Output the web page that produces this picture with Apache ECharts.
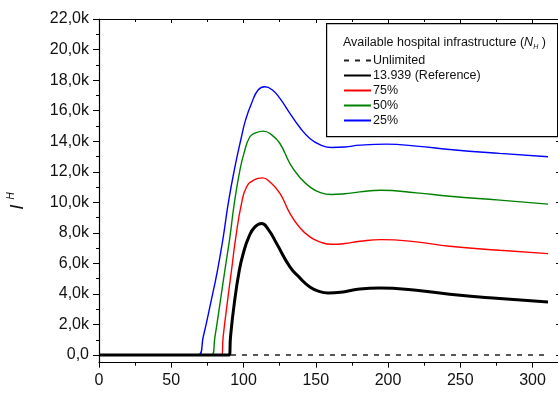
<!DOCTYPE html>
<html>
<head>
<meta charset="utf-8">
<script src="https://cdn.jsdelivr.net/npm/echarts@6/dist/echarts.min.js"></script>
<style>html,body{margin:0;padding:0;background:#fff;}#c{width:558px;height:404px;}</style>
</head>
<body>
<div id="c"></div>
<script>
// ---- data (days, values in persons) ----
const unlimitedDays = [0, 310];
const unlimitedValues = [0, 0];

const refDays   = [0, 90.1, 91, 93.6, 97.1, 99.8, 103.7, 107.9, 112.5, 117, 122.9, 132.1, 139, 145.9, 152.8, 158.6, 170, 180.5, 194.3, 219.6, 242.7, 277.3, 310.7];
const refValues = [0, 0, 1180, 3370, 5550, 6640, 7740, 8390, 8610, 8250, 7300, 5770, 5050, 4460, 4150, 4060, 4150, 4330, 4390, 4240, 3980, 3700, 3470];

const p75Days   = [0, 84.8, 85.9, 88.7, 91.7, 94.7, 98.6, 102.1, 107, 113.1, 118, 125.2, 132.1, 139, 145.9, 152.8, 161, 170, 180.5, 195.4, 219.6, 242.7, 277.3, 310.7];
const p75Values = [0, 0, 1180, 3370, 5550, 7740, 9920, 11000, 11450, 11600, 11350, 10580, 9270, 8330, 7740, 7410, 7250, 7300, 7450, 7560, 7410, 7120, 6860, 6640];

const p50Days   = [0, 77.9, 80.2, 83.7, 87.1, 90.6, 93.6, 97.5, 100.3, 104.4, 108.5, 113.6, 119, 125.2, 132.1, 139, 145.9, 152.8, 161, 170, 180.5, 195, 219.6, 242.7, 277.3, 310.7];
const p50Values = [0, 0, 1180, 3370, 5550, 7740, 9920, 12100, 13200, 14290, 14550, 14660, 14450, 13850, 12540, 11620, 11010, 10650, 10510, 10560, 10680, 10790, 10620, 10400, 10140, 9880];

const p25Days   = [0, 68.7, 72.1, 77.2, 82, 86, 89.4, 93.6, 98.6, 101.4, 105.5, 110.1, 114.8, 120, 125.2, 132.1, 139, 145.9, 152.8, 161, 170, 180.5, 198.9, 219.6, 242.7, 277.3, 310.7];
const p25Values = [0, 0, 1180, 3370, 5550, 7740, 9920, 12100, 14290, 15380, 16470, 17350, 17560, 17350, 16800, 15820, 14900, 14180, 13780, 13590, 13620, 13740, 13810, 13680, 13460, 13200, 12980];

const yMajorTicks = [0, 2000, 4000, 6000, 8000, 10000, 12000, 14000, 16000, 18000, 20000, 22000];
const yMinorTicks = [1000, 3000, 5000, 7000, 9000, 11000, 13000, 15000, 17000, 19000, 21000];

const seriesNames = ['Unlimited', '13.939 (Reference)', '75%', '50%', '25%'];

function pairs(xs, ys) { return xs.map((x, i) => [x, ys[i]]); }

const FONT = 'Liberation Sans, Arial, sans-serif';
const chart = echarts.init(document.getElementById('c'), null, { renderer: 'canvas' });

const yFmt = v => v === 0 ? '0,0' : (v / 1000).toFixed(1).replace('.', ',') + 'k';

const xBase = { type: 'value', min: 0, max: 319, interval: 50, splitLine: { show: false } };
const yBase = { type: 'value', min: -500, max: 22000, splitLine: { show: false } };

chart.setOption({
  animation: false,
  backgroundColor: '#fff',
  grid: { left: 99, top: 19, width: 461, height: 343.7, containLabel: false, outerBoundsMode: 'none' },
  xAxis: [
    Object.assign({}, xBase, {
      position: 'bottom',
      axisLine: { onZero: false, lineStyle: { color: '#000', width: 1.2 } },
      axisTick: { inside: false, length: 5, lineStyle: { color: '#000', width: 1 } },
      minorTick: { show: true, splitNumber: 2, length: 3, lineStyle: { color: '#000', width: 1 } },
      axisLabel: { fontFamily: FONT, fontSize: 16, color: '#111', margin: 10, showMaxLabel: false }
    }),
    Object.assign({}, xBase, {
      position: 'top',
      axisLine: { onZero: false, lineStyle: { color: '#000', width: 1.2 } },
      axisTick: { inside: true, length: 4, lineStyle: { color: '#000', width: 1 } },
      minorTick: { show: true, splitNumber: 2, length: 3, lineStyle: { color: '#000', width: 1 } },
      axisLabel: { show: false }
    })
  ],
  yAxis: [
    Object.assign({}, yBase, {
      position: 'left',
      axisLine: { onZero: false, lineStyle: { color: '#000', width: 1.2 } },
      axisTick: { inside: false, length: 6, customValues: yMajorTicks, lineStyle: { color: '#000', width: 1 } },
      axisLabel: { fontFamily: FONT, fontSize: 16, color: '#111', margin: 10, customValues: yMajorTicks, formatter: yFmt }
    }),
    Object.assign({}, yBase, {
      position: 'left',
      axisLine: { show: false },
      axisTick: { inside: false, length: 3, customValues: yMinorTicks, lineStyle: { color: '#000', width: 1 } },
      axisLabel: { show: false }
    }),
    Object.assign({}, yBase, {
      position: 'right',
      axisLine: { onZero: false, lineStyle: { color: '#000', width: 1.2 } },
      axisTick: { inside: true, length: 4, customValues: yMajorTicks, lineStyle: { color: '#000', width: 1 } },
      axisLabel: { show: false }
    }),
    Object.assign({}, yBase, {
      position: 'right',
      axisLine: { show: false },
      axisTick: { inside: true, length: 3, customValues: yMinorTicks, lineStyle: { color: '#000', width: 1 } },
      axisLabel: { show: false }
    })
  ],
  legend: {
    orient: 'vertical',
    left: 343,
    top: 54,
    padding: 0,
    itemWidth: 27,
    itemHeight: 12,
    itemGap: 2,
    z: 20,
    data: seriesNames,
    itemStyle: { opacity: 0 },
    textStyle: { fontFamily: FONT, fontSize: 12.5, color: '#111', padding: [0, 0, 0, -3] }
  },
  graphic: [
    { type: 'rect', left: 326, top: 23, z: 1, shape: { width: 231, height: 113 }, style: { fill: '#fff', stroke: '#000', lineWidth: 1.2 } },
    { type: 'text', left: 343, top: 36, z: 21,
      style: {
        text: '{a|Available hospital infrastructure (}{n|N}{s|H}{a| )}',
        rich: {
          a: { fontFamily: FONT, fontSize: 12.5, fill: '#111', lineHeight: 16 },
          n: { fontFamily: FONT, fontSize: 12.5, fontStyle: 'italic', fill: '#111', lineHeight: 16 },
          s: { fontFamily: FONT, fontSize: 7, fontStyle: 'italic', fill: '#111', lineHeight: 16, verticalAlign: 'bottom' }
        }
      }
    },
    { type: 'text', x: 18, y: 207, rotation: Math.PI / 2, z: 11,
      style: { text: 'I', fontFamily: FONT, fontSize: 19, fontStyle: 'italic', fill: '#111', align: 'center', verticalAlign: 'middle' } },
    { type: 'text', x: 11, y: 196, rotation: Math.PI / 2, z: 11,
      style: { text: 'H', fontFamily: FONT, fontSize: 10, fontStyle: 'italic', fill: '#111', align: 'center', verticalAlign: 'middle' } }
  ],
  series: [
    { name: seriesNames[0], type: 'line', data: pairs(unlimitedDays, unlimitedValues), symbol: 'none', z: 2,
      lineStyle: { color: '#222', width: 1.5, type: [5, 6] }, itemStyle: { color: '#222' } },
    { name: seriesNames[4], type: 'line', data: pairs(p25Days, p25Values), symbol: 'none', smooth: 0.5, z: 3,
      lineStyle: { color: '#0000ff', width: 1.4 }, itemStyle: { color: '#0000ff' } },
    { name: seriesNames[3], type: 'line', data: pairs(p50Days, p50Values), symbol: 'none', smooth: 0.5, z: 3,
      lineStyle: { color: '#008000', width: 1.4 }, itemStyle: { color: '#008000' } },
    { name: seriesNames[2], type: 'line', data: pairs(p75Days, p75Values), symbol: 'none', smooth: 0.5, z: 3,
      lineStyle: { color: '#ff0000', width: 1.4 }, itemStyle: { color: '#ff0000' } },
    { name: seriesNames[1], type: 'line', data: pairs(refDays, refValues), symbol: 'none', smooth: 0.5, z: 4,
      lineStyle: { color: '#000', width: 3 }, itemStyle: { color: '#000' } }
  ]
});
</script>
</body>
</html>
